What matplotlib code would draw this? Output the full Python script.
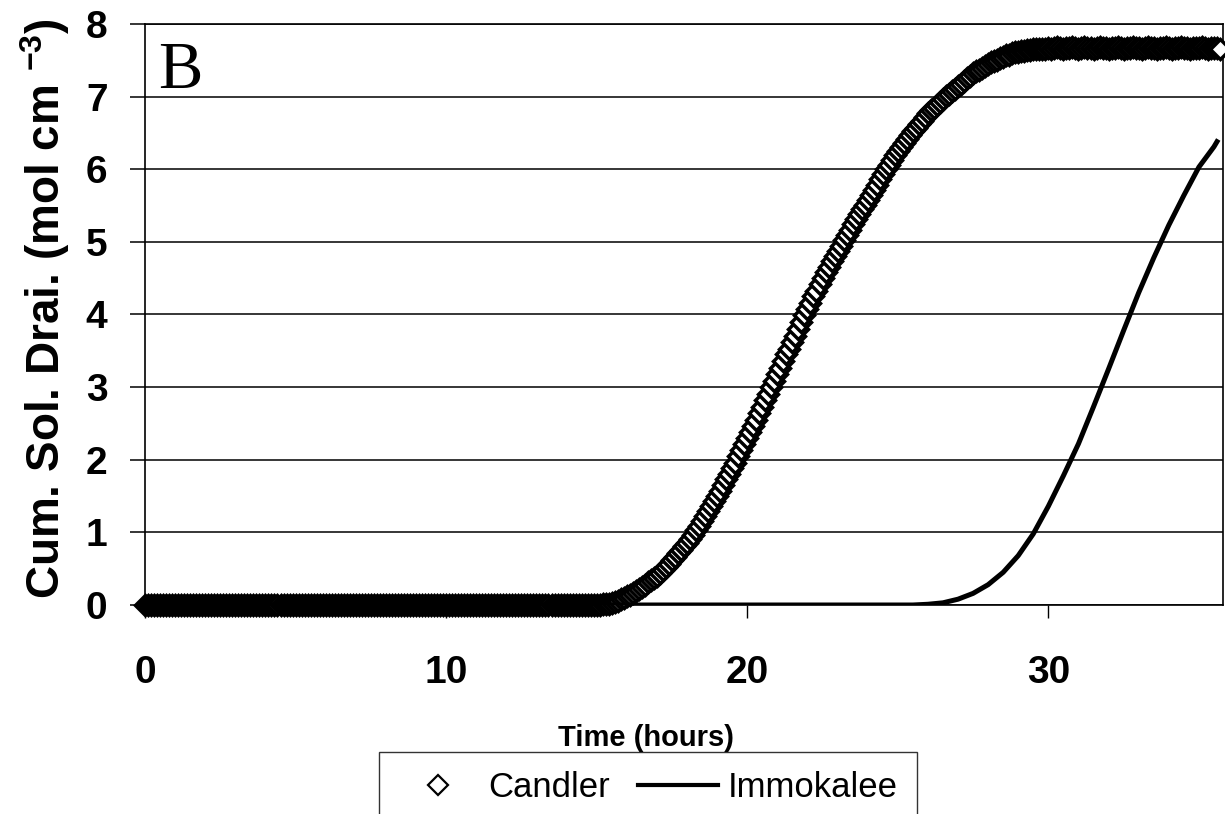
import numpy as np
import matplotlib
matplotlib.use("Agg")
import matplotlib.pyplot as plt
from matplotlib.lines import Line2D

plt.rcParams["font.family"] = ["Liberation Sans", "DejaVu Sans"]
plt.rcParams["mathtext.fontset"] = "custom"
plt.rcParams["mathtext.bf"] = "Liberation Sans:bold"
plt.rcParams["mathtext.rm"] = "Liberation Sans:bold"

# cumulative solute drainage (mol cm-3), logged every 0.1 h
LOG_STEP_H = 0.1
candler_cum = [
    # 0 - 14.9 h : nothing through yet
    0, 0, 0, 0, 0, 0, 0, 0, 0, 0,
    0, 0, 0, 0, 0, 0, 0, 0, 0, 0,
    0, 0, 0, 0, 0, 0, 0, 0, 0, 0,
    0, 0, 0, 0, 0, 0, 0, 0, 0, 0,
    0, 0, 0, 0, 0, 0, 0, 0, 0, 0,
    0, 0, 0, 0, 0, 0, 0, 0, 0, 0,
    0, 0, 0, 0, 0, 0, 0, 0, 0, 0,
    0, 0, 0, 0, 0, 0, 0, 0, 0, 0,
    0, 0, 0, 0, 0, 0, 0, 0, 0, 0,
    0, 0, 0, 0, 0, 0, 0, 0, 0, 0,
    0, 0, 0, 0, 0, 0, 0, 0, 0, 0,
    0, 0, 0, 0, 0, 0, 0, 0, 0, 0,
    0, 0, 0, 0, 0, 0, 0, 0, 0, 0,
    0, 0, 0, 0, 0, 0, 0, 0, 0, 0,
    0, 0, 0, 0, 0, 0, 0, 0, 0, 0,
    # 15 h onwards
    0.00, 0.00, 0.01, 0.01, 0.02, 0.03, 0.04, 0.06, 0.08, 0.10,
    0.12, 0.14, 0.16, 0.19, 0.22, 0.25, 0.28, 0.31, 0.34, 0.37,
    0.40, 0.44, 0.48, 0.53, 0.57, 0.62, 0.66, 0.71, 0.76, 0.81,
    0.86, 0.91, 0.97, 1.03, 1.09, 1.15, 1.22, 1.29, 1.36, 1.43,
    1.50, 1.57, 1.65, 1.73, 1.80, 1.88, 1.96, 2.05, 2.13, 2.21,
    2.30, 2.38, 2.47, 2.55, 2.64, 2.73, 2.82, 2.91, 3.00, 3.09,
    3.18, 3.27, 3.36, 3.45, 3.53, 3.62, 3.71, 3.80, 3.90, 3.99,
    4.08, 4.16, 4.25, 4.33, 4.42, 4.50, 4.58, 4.66, 4.73, 4.81,
    4.88, 4.95, 5.03, 5.10, 5.17, 5.24, 5.31, 5.38, 5.45, 5.51,
    5.58, 5.65, 5.72, 5.79, 5.86, 5.93, 6.00, 6.06, 6.13, 6.19,
    6.25, 6.31, 6.36, 6.41, 6.47, 6.52, 6.57, 6.62, 6.67, 6.72,
    6.77, 6.81, 6.85, 6.89, 6.93, 6.97, 7.01, 7.04, 7.08, 7.11,
    7.15, 7.18, 7.22, 7.25, 7.29, 7.32, 7.35, 7.37, 7.40, 7.42,
    7.45, 7.47, 7.49, 7.51, 7.53, 7.55, 7.57, 7.58, 7.60, 7.61,
    7.62, 7.63, 7.63, 7.64, 7.64, 7.65, 7.65, 7.66, 7.66, 7.66,
    7.67, 7.66, 7.67, 7.68, 7.67, 7.66, 7.67, 7.67, 7.68, 7.67,
    7.66, 7.67, 7.68, 7.67, 7.67, 7.66, 7.67, 7.68, 7.67, 7.67,
    7.66, 7.67, 7.67, 7.68, 7.67, 7.66, 7.67, 7.67, 7.68, 7.67,
    7.67, 7.66, 7.67, 7.68, 7.67, 7.67, 7.66, 7.67, 7.67, 7.68,
    7.67, 7.66, 7.67, 7.67, 7.68, 7.67, 7.67, 7.66, 7.67, 7.67,
    7.67, 7.68, 7.67, 7.66, 7.67, 7.67, 7.67, 7.66,
]
candler_hours = np.round(np.arange(len(candler_cum)) * LOG_STEP_H, 1)

immokalee_hours = [
    0, 0.5, 1, 1.5, 2, 2.5, 3, 3.5, 4, 4.5, 5, 5.5, 6, 6.5, 7, 7.5,
    8, 8.5, 9, 9.5, 10, 10.5, 11, 11.5, 12, 12.5, 13, 13.5, 14, 14.5,
    15, 15.5, 16, 16.5, 17, 17.5, 18, 18.5, 19, 19.5, 20, 20.5, 21, 21.5,
    22, 22.5, 23, 23.5, 24, 24.5, 25, 25.5, 26, 26.5, 27, 27.5, 28, 28.5,
    29, 29.5, 30, 30.5, 31, 31.5, 32, 32.5, 33, 33.5, 34, 34.5, 35, 35.5,
    35.6,
]
immokalee_cum = [
    0, 0, 0, 0, 0, 0, 0, 0, 0, 0, 0, 0, 0, 0, 0, 0,
    0, 0, 0, 0, 0, 0, 0, 0, 0, 0, 0, 0, 0, 0,
    0, 0, 0, 0, 0, 0, 0, 0, 0, 0, 0, 0, 0, 0,
    0, 0, 0, 0, 0, 0, 0, 0, 0.01, 0.03, 0.08, 0.16, 0.28, 0.45,
    0.68, 0.98, 1.36, 1.78, 2.22, 2.73, 3.25, 3.78, 4.30, 4.78, 5.23, 5.64, 6.03, 6.31,
    6.38,
]

x_ticks = [0, 10, 20, 30]
y_ticks = [0, 1, 2, 3, 4, 5, 6, 7, 8]

W, H = 1225, 814
fig = plt.figure(figsize=(W / 100, H / 100), dpi=100, facecolor="white")
ax = fig.add_axes([145 / W, 1 - 605 / H, 1078 / W, 581 / H])

ax.plot(candler_hours, candler_cum, ls="none", marker="D", ms=10, mew=2.5,
        mfc="white", mec="black", clip_on=False, zorder=3)
ax.plot(immokalee_hours, immokalee_cum, color="black", lw=3.6, zorder=4,
        solid_joinstyle="round")

ax.set_xlim(0, 35.8)
ax.set_ylim(0, 8)
ax.set_xticks(x_ticks)
ax.set_yticks(y_ticks)
ax.grid(axis="y", color="black", lw=1.1)
ax.set_axisbelow(True)
for s in ax.spines.values():
    s.set_color("black")
    s.set_linewidth(1.2)

ax.tick_params(axis="y", length=11, width=1.1, pad=16, labelsize=28)
ax.tick_params(axis="x", length=9, width=1.0, pad=27, labelsize=28)
for lab in ax.get_xticklabels() + ax.get_yticklabels():
    lab.set_fontweight("bold")

ax.set_ylabel(r"Cum. Sol. Drai. (mol cm $^{-3}$)", fontsize=33, fontweight="bold")
ax.yaxis.set_label_coords(-0.068, 0.51)

ax.text(0.012, 0.89, "B", transform=ax.transAxes, fontsize=48,
        family="Liberation Serif", va="baseline", ha="left")

fig.text(0.527, 1 - 746 / H, "Time (hours)", fontsize=21, fontweight="bold",
         ha="center", va="baseline")

handles = [
    Line2D([], [], ls="none", marker="D", ms=10, mew=1.6, mfc="white",
           mec="black", label="Candler"),
    Line2D([], [], color="black", lw=3, label="Immokalee"),
]
leg = fig.legend(handles=handles, loc="upper center", ncol=2,
                 bbox_to_anchor=(0.529, 1 - 752 / H), fontsize=25,
                 frameon=True, fancybox=False, edgecolor="black",
                 handlelength=2.3, handletextpad=0.3, columnspacing=0.8,
                 borderpad=0.55, borderaxespad=0)
leg.get_frame().set_linewidth(1.0)

fig.savefig("out.png", dpi=100, facecolor="white")
